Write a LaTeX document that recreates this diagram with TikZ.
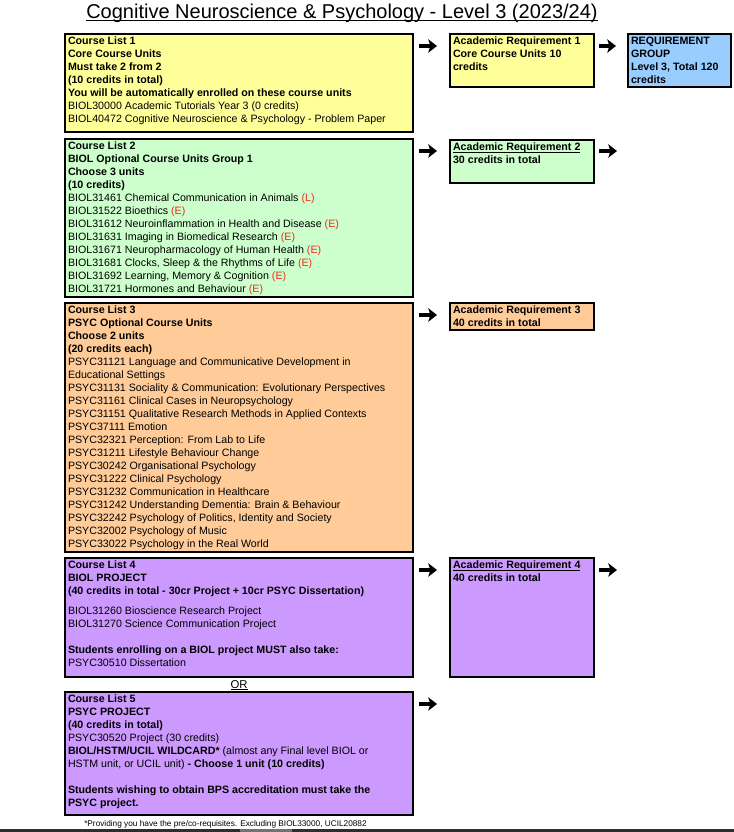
\documentclass[tikz,border=0pt]{standalone}
\usepackage{fontspec}
\setmainfont{Liberation Sans}
\usepackage{xcolor}
\usepackage{tikz}
\usetikzlibrary{arrows.meta, positioning}

\newdimen\pxu
\pxu=0.75pt
\newsavebox{\ulsave}
\newcommand{\cellbox}[3]{\parbox[t][#2\pxu][t]{#1\pxu}{\raggedright #3}}
\newcommand{\grd}[1]{\textcolor{gradered}{#1}}
\newcommand{\ultext}[3]{\leavevmode\sbox\ulsave{#3}\rlap{\rule[-#1]{\wd\ulsave}{#2}}\usebox\ulsave}

\definecolor{listyellow}{HTML}{FFFF99}
\definecolor{listgreen}{HTML}{CCFFCC}
\definecolor{listorange}{HTML}{FFCC99}
\definecolor{listpurple}{HTML}{CC99FF}
\definecolor{groupblue}{HTML}{99CCFF}
\definecolor{gradered}{HTML}{EE2A1E}
\definecolor{bargrey}{HTML}{2E2E2E}

\tikzset{
  blk/.style={rectangle, draw=black, line width=1.2\pxu, inner sep=3\pxu, outer sep=0pt,
              anchor=north west, font=\fontsize{8}{9.75}\selectfont},
  yellowb/.style={blk, fill=listyellow},
  greenb/.style={blk, fill=listgreen},
  orangeb/.style={blk, fill=listorange},
  purpleb/.style={blk, fill=listpurple},
  blueb/.style={blk, fill=groupblue},
  reqb/.style={font=\fontsize{8}{9.75}\selectfont\bfseries},
  pipe/.style={-{Stealth[length=6.5pt, width=10pt, inset=1.5pt]}, line width=3.2pt, draw=black},
}

\begin{document}
\begin{tikzpicture}[x=0.75pt, y=-0.75pt]
    \useasboundingbox (0,0) rectangle (734,832);

    \node[anchor=base, inner sep=0pt, font=\fontsize{15}{18}\selectfont] (title) at (342,18)
      {\ultext{3.4\pxu}{1.4\pxu}{Cognitive Neuroscience \& Psychology - Level 3 (2023/24)}};

    % course lists
    \node[yellowb] (cl1) at (65,34) {\cellbox{342}{92}{%
      {\bfseries Course List 1\\ Core Course Units\\ Must take 2 from 2\\ (10 credits in total)\\
      You will be automatically enrolled on these course units\\}
      BIOL30000 Academic Tutorials Year 3 (0 credits)\\
      BIOL40472 Cognitive Neuroscience \& Psychology - Problem Paper}};
    \node[greenb, below=7\pxu of cl1] (cl2) {\cellbox{342}{152}{%
      {\bfseries Course List 2\\ BIOL Optional Course Units Group 1\\ Choose 3 units\\ (10 credits)\\}
      BIOL31461 Chemical Communication in Animals \grd{(L)}\\
      BIOL31522 Bioethics \grd{(E)}\\
      BIOL31612 Neuroinflammation in Health and Disease \grd{(E)}\\
      BIOL31631 Imaging in Biomedical Research \grd{(E)}\\
      BIOL31671 Neuropharmacology of Human Health \grd{(E)}\\
      BIOL31681 Clocks, Sleep \& the Rhythms of Life \grd{(E)}\\
      BIOL31692 Learning, Memory \& Cognition \grd{(E)}\\
      BIOL31721 Hormones and Behaviour \grd{(E)}}};
    \node[orangeb, below=6\pxu of cl2] (cl3) {\cellbox{342}{243}{%
      {\bfseries Course List 3\\ PSYC Optional Course Units\\ Choose 2 units\\ (20 credits each)\\}
      PSYC31121 Language and Communicative Development in\\
      Educational Settings\\
      PSYC31131 Sociality \& Communication: Evolutionary Perspectives\\
      PSYC31161 Clinical Cases in Neuropsychology\\
      PSYC31151 Qualitative Research Methods in Applied Contexts\\
      PSYC37111 Emotion\\
      PSYC32321 Perception: From Lab to Life\\
      PSYC31211 Lifestyle Behaviour Change\\
      PSYC30242 Organisational Psychology\\
      PSYC31222 Clinical Psychology\\
      PSYC31232 Communication in Healthcare\\
      PSYC31242 Understanding Dementia: Brain \& Behaviour\\
      PSYC32242 Psychology of Politics, Identity and Society\\
      PSYC32002 Psychology of Music\\
      PSYC33022 Psychology in the Real World}};
    \node[purpleb, below=6\pxu of cl3] (cl4) {\cellbox{342}{113}{%
      {\bfseries Course List 4\\ BIOL PROJECT\\ (40 credits in total - 30cr Project + 10cr PSYC Dissertation)\\[7\pxu]}
      BIOL31260 Bioscience Research Project\\
      BIOL31270 Science Communication Project\\[13\pxu]
      \textbf{Students enrolling on a BIOL project MUST also take:}\\
      PSYC30510 Dissertation}};
    \node[purpleb, below=15\pxu of cl4] (cl5) {\cellbox{342}{117}{%
      {\bfseries Course List 5\\ PSYC PROJECT\\ (40 credits in total)\\}
      PSYC30520 Project (30 credits)\\
      \textbf{BIOL/HSTM/UCIL WILDCARD*} (almost any Final level BIOL or\\
      HSTM unit, or UCIL unit) \textbf{- Choose 1 unit (10 credits)}\\[13\pxu]
      \textbf{Students wishing to obtain BPS accreditation must take the\\ PSYC project.}}};

    \node[anchor=base, inner sep=0pt, font=\fontsize{8.5}{10}\selectfont] (ortext) at ([yshift=-11\pxu]cl4.south)
      {\ultext{2.2\pxu}{1\pxu}{OR}};
    \node[anchor=base west, inner sep=0pt, font=\fontsize{6.2}{7}\selectfont] (fnote) at ([xshift=19\pxu, yshift=-11\pxu]cl5.south west)
      {*Providing you have the pre/co-requisites. Excluding BIOL33000, UCIL20882};

    % requirements
    \node[yellowb, reqb] (req1) at ([xshift=37\pxu]cl1.north east) {\cellbox{138}{47}{%
      Academic Requirement 1\\ Core Course Units 10\\ credits}};
    \node[blueb, reqb] (group) at ([xshift=34\pxu]req1.north east) {\cellbox{97}{47}{%
      REQUIREMENT\\ GROUP\\ Level 3, Total 120\\ credits}};
    \node[greenb, reqb] (req2) at ([xshift=37\pxu, yshift=-1\pxu]cl2.north east) {\cellbox{138}{37}{%
      \ultext{2.2\pxu}{1\pxu}{Academic Requirement 2}\\ 30 credits in total}};
    \node[orangeb, reqb] (req3) at ([xshift=37\pxu]cl3.north east) {\cellbox{138}{21}{%
      Academic Requirement 3\\ 40 credits in total}};
    \node[purpleb, reqb] (req4) at ([xshift=37\pxu]cl4.north east) {\cellbox{138}{113}{%
      \ultext{2.2\pxu}{1\pxu}{Academic Requirement 4}\\ 40 credits in total}};

    \coordinate (r2out) at ([xshift=23\pxu, yshift=-11\pxu]req2.north east);
    \coordinate (r4out) at ([xshift=23\pxu, yshift=-12\pxu]req4.north east);
    \coordinate (c5out) at ([xshift=24\pxu, yshift=-12\pxu]cl5.north east);

    \draw[pipe] ([xshift=6\pxu, yshift=-12\pxu]cl1.north east) -- ([xshift=-13\pxu, yshift=-12\pxu]req1.north west);
    \draw[pipe] ([xshift=5\pxu, yshift=-12\pxu]req1.north east) -- ([xshift=-12\pxu, yshift=-12\pxu]group.north west);
    \draw[pipe] ([xshift=6\pxu, yshift=-12\pxu]cl2.north east) -- ([xshift=-13\pxu, yshift=-11\pxu]req2.north west);
    \draw[pipe] ([xshift=5\pxu, yshift=-11\pxu]req2.north east) -- (r2out);
    \draw[pipe] ([xshift=6\pxu, yshift=-12\pxu]cl3.north east) -- ([xshift=-13\pxu, yshift=-12\pxu]req3.north west);
    \draw[pipe] ([xshift=6\pxu, yshift=-12\pxu]cl4.north east) -- ([xshift=-13\pxu, yshift=-12\pxu]req4.north west);
    \draw[pipe] ([xshift=5\pxu, yshift=-12\pxu]req4.north east) -- (r4out);
    \draw[pipe] ([xshift=6\pxu, yshift=-12\pxu]cl5.north east) -- (c5out);

    \fill[bargrey] (0,829) rectangle (734,832);
    \fill[black!55] (240,829) rectangle (292,832);
\end{tikzpicture}
\end{document}
